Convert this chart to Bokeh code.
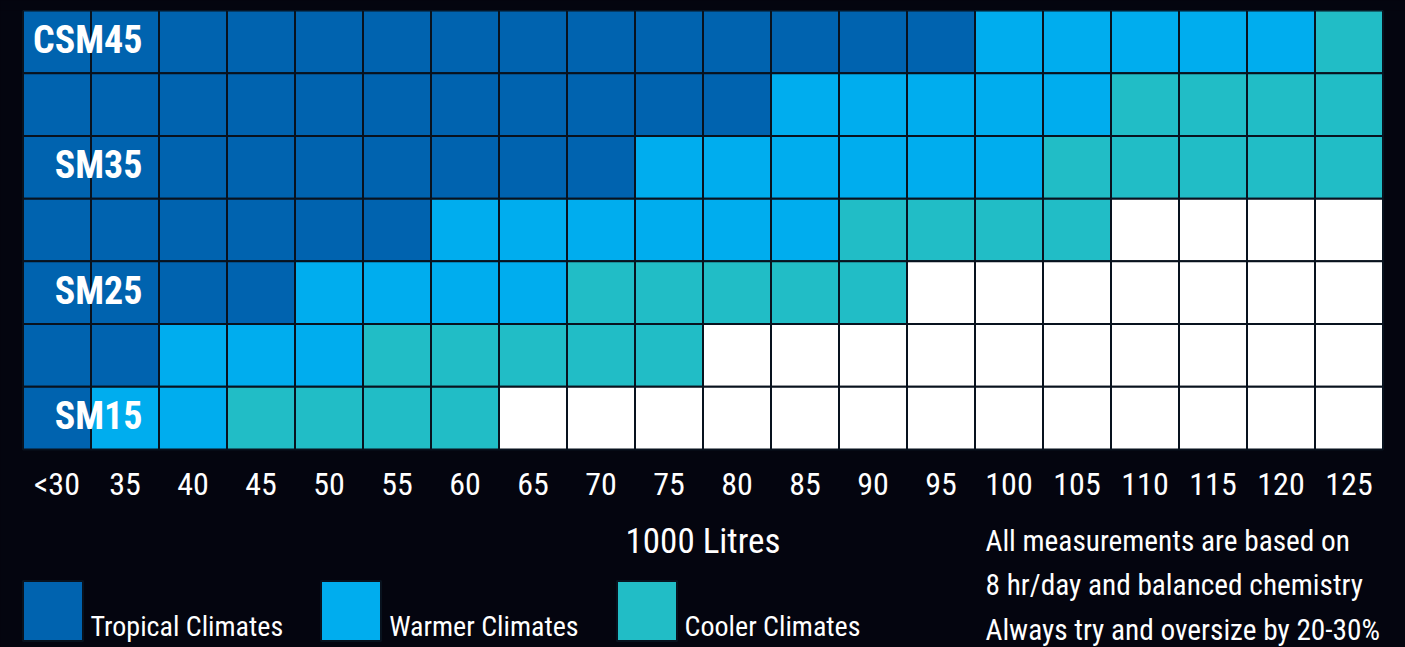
from bokeh.plotting import figure
from bokeh.models import FactorRange, Range1d, ColumnDataSource, Legend, LegendItem, Label
from bokeh.core.properties import value
from bokeh.embed import file_html
from bokeh.resources import INLINE

# ---- data -------------------------------------------------------------
columns = ["<30", "35", "40", "45", "50", "55", "60", "65", "70", "75",
           "80", "85", "90", "95", "100", "105", "110", "115", "120", "125"]
row_labels = ["CSM45", "", "SM35", "", "SM25", "", "SM15"]
# number of columns (from the left) in each climate band, per row (top to bottom)
tropical_count = [14, 11, 9, 6, 4, 2, 1]
warmer_count = [5, 5, 6, 6, 4, 3, 2]
cooler_count = [1, 4, 5, 4, 5, 5, 4]
climates = ["Tropical Climates", "Warmer Climates", "Cooler Climates"]
climate_colors = ["#0063af", "#00adee", "#21bdc6"]
empty_color = "#ffffff"
notes = ["All measurements are based on",
         "8 hr/day and balanced chemistry",
         "Always try and oversize by 20-30%"]
x_title = "1000 Litres"

BG = "#04050f"
FONT_STACK = "'Roboto Condensed', 'DejaVu Sans Condensed', 'Liberation Sans Narrow', 'Liberation Sans', sans-serif"

W, H = 1405, 647
TOP = 10
SIDE_PX = 22.5          # empty margin left/right of the grid
GRID_PX = 439           # grid height in pixels
n_rows = len(row_labels)
n_cols = len(columns)
frame_px = H - TOP
y_start = n_rows - n_rows * frame_px / GRID_PX
x_pad = SIDE_PX * n_cols / (W - 2 * SIDE_PX)   # applied on each side

band_x = {k: [] for k in range(4)}
band_y = {k: [] for k in range(4)}
for r in range(n_rows):
    t, w, c = tropical_count[r], warmer_count[r], cooler_count[r]
    for i, col in enumerate(columns):
        if i < t:
            k = 0
        elif i < t + w:
            k = 1
        elif i < t + w + c:
            k = 2
        else:
            k = 3
        band_x[k].append(col)
        band_y[k].append(n_rows - r - 0.5)

p = figure(width=W, height=H,
           x_range=FactorRange(*columns, range_padding=x_pad, range_padding_units="absolute"),
           y_range=Range1d(y_start, n_rows),
           output_backend="svg", toolbar_location=None,
           min_border_left=0, min_border_right=0, min_border_top=TOP,
           min_border_bottom=0)
p.background_fill_color = BG
p.border_fill_color = BG
p.outline_line_color = None
p.xgrid.visible = False
p.ygrid.visible = False
p.yaxis.visible = False

renderers = []
fills = climate_colors + [empty_color]
for k in range(4):
    src = ColumnDataSource(dict(x=band_x[k], y=band_y[k]))
    r = p.rect(x="x", y="y", width=1, height=1, source=src,
               fill_color=fills[k], line_color="#08121e", line_width=2)
    renderers.append(r)

lab_x = [columns[1] for r in range(n_rows) if row_labels[r]]
lab_y = [n_rows - r - 0.5 for r in range(n_rows) if row_labels[r]]
lab_t = [row_labels[r] for r in range(n_rows) if row_labels[r]]
p.text(x=lab_x, y=lab_y, text=lab_t, text_align="right", text_baseline="middle",
       x_offset=17.5, y_offset=-2, text_color="white", text_font=value(FONT_STACK),
       text_font_style="bold", text_font_size="38px")

ax = p.xaxis[0]
ax.fixed_location = 0
ax.axis_line_color = None
ax.major_tick_line_color = None
ax.minor_tick_line_color = None
ax.major_tick_out = 0
ax.major_tick_in = 0
ax.major_label_standoff = 15
ax.major_label_text_color = "white"
ax.major_label_text_font = FONT_STACK
ax.major_label_text_font_size = "32px"
ax.axis_label = x_title
ax.axis_label_standoff = 15
ax.axis_label_text_color = "white"
ax.axis_label_text_font = FONT_STACK
ax.axis_label_text_font_style = "normal"
ax.axis_label_text_font_size = "35px"

# the leading line break drops each label to the lower half of its swatch
legend = Legend(items=[LegendItem(label="\n" + climates[k], renderers=[renderers[k]]) for k in range(3)],
                orientation="horizontal", location=(14.5, -0.5),
                glyph_width=75, glyph_height=75,
                label_standoff=1, spacing=30,
                padding=0, margin=0, border_line_color=None, background_fill_alpha=0,
                label_text_color="white", label_text_font=FONT_STACK,
                label_text_font_size="28px", label_text_line_height=1.14)
p.add_layout(legend)

p.add_layout(Label(x=985, y=124, x_units="screen", y_units="screen",
                   text="\n".join(notes), text_color="white",
                   text_font=FONT_STACK, text_font_size="29.3px",
                   text_baseline="top", text_align="left", text_line_height=1.31))

html = file_html(p, INLINE)
html = html.replace("</head>", "<style>html,body{background:%s;}</style></head>" % BG)
open("out.html", "w").write(html)
